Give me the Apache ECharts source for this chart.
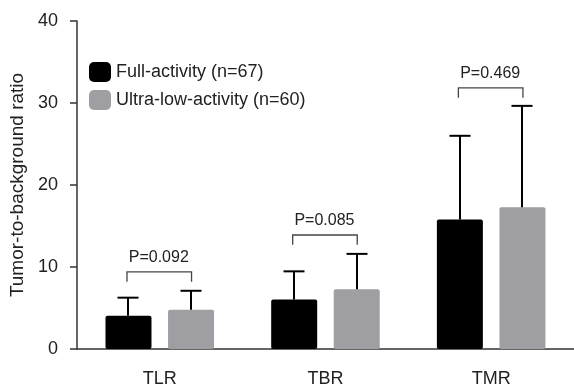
<!DOCTYPE html>
<html><head><meta charset="utf-8">
<script src="https://cdn.jsdelivr.net/npm/echarts@6/dist/echarts.min.js"></script>
<style>html,body{margin:0;padding:0;background:#fff}#c{width:574px;height:388px}</style>
</head><body><div id="c"></div>
<script>
const categories = ['TLR', 'TBR', 'TMR'];
const seriesNames = ['Full-activity (n=67)', 'Ultra-low-activity (n=60)'];
const fullMean = [4.05, 6.05, 15.8];
const fullUpper = [6.26, 9.47, 26.0];
const ultraMean = [4.78, 7.3, 17.3];
const ultraUpper = [7.1, 11.6, 29.65];
const pLabels = ['P=0.092', 'P=0.085', 'P=0.469'];
const bracketTop = [9.4, 13.9, 31.85];
const bracketBottom = [8.2, 12.7, 30.65];
const yMin = 0, yMax = 40, yStep = 10;

const FONT = '"Liberation Sans", Arial, Helvetica, sans-serif';
const BAR_W = 46, GAP = 0.36;
const OFF = (BAR_W + BAR_W * GAP) / 2;

function errRender(sign) {
  return function (params, api) {
    const c = api.coord([api.value(0), api.value(1)]);
    const t = api.coord([api.value(0), api.value(2)]);
    const x = Math.round(c[0] + sign * OFF);
    return {
      type: 'group', children: [
        { type: 'line', shape: { x1: x, y1: c[1], x2: x, y2: t[1] }, style: { stroke: '#000', lineWidth: 2 } },
        { type: 'line', shape: { x1: x - 10.5, y1: t[1], x2: x + 10.5, y2: t[1] }, style: { stroke: '#000', lineWidth: 2 } }
      ]
    };
  };
}

function bracketRender(params, api) {
  const top = api.coord([api.value(0), api.value(1)]);
  const bot = api.coord([api.value(0), api.value(2)]);
  const cx = top[0];
  const xl = cx - OFF - 1.5, xr = cx + OFF + 0.5;
  const i = params.dataIndex;
  return {
    type: 'group', children: [
      { type: 'polyline', shape: { points: [[xl, bot[1]], [xl, top[1]], [xr, top[1]], [xr, bot[1]]] },
        style: { stroke: '#444', lineWidth: 1.3, fill: null } },
      { type: 'text', x: cx - 1, y: top[1] - 14.5,
        style: { text: pLabels[i], fill: '#222', fontSize: 16, fontFamily: FONT, align: 'center', verticalAlign: 'middle' } }
    ]
  };
}

const chart = echarts.init(document.getElementById('c'), null, { renderer: 'canvas' });
chart.setOption({
  animation: false,
  backgroundColor: '#fff',
  textStyle: { fontFamily: FONT },
  grid: { left: 74, right: 0, top: 21, bottom: 35 },
  legend: {
    orient: 'vertical', left: 84, top: 57, itemWidth: 22, itemHeight: 20, itemGap: 8,
    icon: 'roundRect',
    textStyle: { fontSize: 18, color: '#222', fontFamily: FONT },
    data: seriesNames
  },
  xAxis: {
    type: 'category', data: categories,
    axisLine: { lineStyle: { color: '#333', width: 1.5 } },
    axisTick: { alignWithLabel: true, length: 7, lineStyle: { color: '#333', width: 1.5 } },
    axisLabel: { fontSize: 18, color: '#222', margin: 21, fontFamily: FONT }
  },
  yAxis: {
    type: 'value', min: yMin, max: yMax, interval: yStep,
    name: 'Tumor-to-background ratio', nameLocation: 'middle', nameGap: 47,
    nameTextStyle: { fontSize: 19, color: '#222', fontFamily: FONT },
    axisLine: { show: true, lineStyle: { color: '#333', width: 1.5 } },
    axisTick: { show: true, length: 7, lineStyle: { color: '#333', width: 1.5 } },
    axisLabel: { fontSize: 18, color: '#222', margin: 19, fontFamily: FONT },
    splitLine: { show: false }
  },
  series: [
    { name: seriesNames[0], type: 'bar', data: fullMean, barWidth: BAR_W, barGap: (GAP * 100) + '%',
      itemStyle: { color: '#000', borderRadius: 2 } },
    { name: seriesNames[1], type: 'bar', data: ultraMean, barWidth: BAR_W, barGap: (GAP * 100) + '%',
      itemStyle: { color: '#9f9fa3', borderRadius: 2 } },
    { type: 'custom', renderItem: errRender(-1), z: 5, silent: true,
      encode: { x: 0, y: [1, 2] },
      data: categories.map((c, i) => [i, fullMean[i], fullUpper[i]]) },
    { type: 'custom', renderItem: errRender(1), z: 5, silent: true,
      encode: { x: 0, y: [1, 2] },
      data: categories.map((c, i) => [i, ultraMean[i], ultraUpper[i]]) },
    { type: 'custom', renderItem: bracketRender, z: 5, silent: true,
      encode: { x: 0, y: [1, 2] },
      data: categories.map((c, i) => [i, bracketTop[i], bracketBottom[i]]) }
  ]
});
</script>
</body></html>
